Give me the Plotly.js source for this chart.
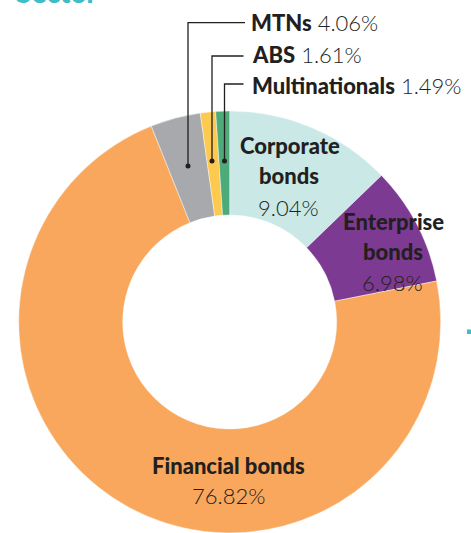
<!DOCTYPE html>
<html>
<head>
<meta charset="utf-8">
<script src="https://cdn.plot.ly/plotly-3.0.1.min.js"></script>
<style>html,body{margin:0;padding:0;background:#fff;}#chart{width:471px;height:533px;}</style>
</head>
<body>
<div id="chart"></div>
<script>
// ---- data ----
var categories = ["Corporate bonds", "Enterprise bonds", "Financial bonds", "MTNs", "ABS", "Multinationals"];
var labelPct = [9.04, 6.98, 76.82, 4.06, 1.61, 1.49];          // shares printed on the chart (%)
var sliceShare = [12.78, 9.11, 72.06, 3.83, 1.17, 1.06];        // slice sizes as drawn in the graphic (%)
var sliceColors = ["#c9e8e6", "#7d3a93", "#f8a75c", "#a7a9ac", "#fdc94e", "#4dab7a"];

var W = 471, H = 533;
function px(x) { return x / W; }
function py(y) { return 1 - y / H; }
var ink = "#231f20";
var FONT = "Lato, 'Open Sans', sans-serif";

function pctText(v) { return v.toFixed(2) + "%"; }

var annotations = [];
function addText(txt, x, y, xanchor, size, color, weight) {
  annotations.push({
    text: txt, x: px(x), y: py(y), xref: "paper", yref: "paper",
    xanchor: xanchor, yanchor: "middle", showarrow: false,
    font: {family: FONT, size: size, color: color || ink, weight: weight || 300}
  });
}
function bold(s) { return "<span style=\"font-weight:900\">" + s + "</span>"; }

// cropped section title
addText(bold("Sector"), 14, -8, "left", 28, "#3dbdc6", 900);

// small-slice callouts (MTNs, ABS, Multinationals)
addText(bold(categories[3]) + " " + pctText(labelPct[3]), 249, 22.8, "left", 22);
addText(bold(categories[4]) + " " + pctText(labelPct[4]), 250, 54.2, "left", 22);
addText(bold(categories[5]) + " " + pctText(labelPct[5]), 250, 85.3, "left", 22);

// Corporate bonds
addText(bold("Corporate"), 289.5, 145.5, "center", 22);
addText(bold("bonds"), 289, 175.5, "center", 22);
addText(pctText(labelPct[0]), 288.5, 207.5, "center", 22);
// Enterprise bonds
addText(bold("Enterprise"), 393, 221.7, "center", 22);
addText(bold("bonds"), 393, 251.5, "center", 22);
addText(pctText(labelPct[1]), 392, 282.5, "center", 22);
// Financial bonds
addText(bold(categories[2]), 228.5, 465.7, "center", 22);
addText(pctText(labelPct[2]), 228.5, 495, "center", 22);

// leader lines and dots
var shapes = [];
function leader(xText, yLine, xDot, yDot) {
  shapes.push({
    type: "path", xref: "paper", yref: "paper",
    path: "M" + px(xText) + "," + py(yLine) + " L" + px(xDot) + "," + py(yLine) + " L" + px(xDot) + "," + py(yDot),
    line: {color: ink, width: 1.3}
  });
  var r = 2.5;
  shapes.push({
    type: "circle", xref: "paper", yref: "paper",
    x0: px(xDot - r), x1: px(xDot + r), y0: py(yDot + r), y1: py(yDot - r),
    fillcolor: ink, line: {width: 0}
  });
}
leader(245, 22.7, 188, 166);
leader(243.5, 56, 212, 161);
leader(243.5, 84, 224.5, 161);

// small teal marker at the right edge
shapes.push({type: "rect", xref: "paper", yref: "paper",
  x0: px(467), x1: px(472), y0: py(334), y1: py(329.5),
  fillcolor: "#3dbdc6", line: {width: 0}});

var trace = {
  type: "pie",
  labels: categories,
  values: sliceShare,
  sort: false,
  direction: "clockwise",
  rotation: 0,
  hole: 0.507,
  textinfo: "none",
  hoverinfo: "label",
  marker: {colors: sliceColors, line: {color: "rgba(255,255,255,0.7)", width: 0.6}},
  domain: {x: [px(17.7), px(441.7)], y: [0, 422 / H]},
  showlegend: false
};

var layout = {
  width: W, height: H,
  margin: {l: 0, r: 0, t: 0, b: 0},
  paper_bgcolor: "#ffffff",
  plot_bgcolor: "#ffffff",
  showlegend: false,
  annotations: annotations,
  shapes: shapes
};

Plotly.newPlot("chart", [trace], layout, {displayModeBar: false, staticPlot: true});
</script>
</body>
</html>
